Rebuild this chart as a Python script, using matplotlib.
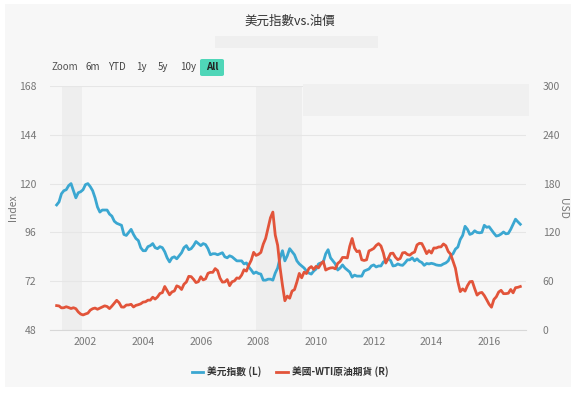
import numpy as np
import matplotlib
matplotlib.use("Agg")
import matplotlib.pyplot as plt
from matplotlib.patches import Rectangle, FancyBboxPatch
from matplotlib.lines import Line2D

plt.rcParams['font.family'] = ['Noto Sans CJK TC', 'DejaVu Sans']

title = "美元指數vs.油價"
start_year = 2001.0
# monthly values, Jan 2001 .. Feb 2017
dxy = [
    109.5, 111.0, 115.0, 116.5, 117.0, 119.0, 120.0, 116.5, 113.0, 115.5, 116.0, 117.0,
    119.5, 120.0, 118.5, 116.5, 113.0, 108.5, 106.0, 107.0, 107.0, 107.0, 105.0, 104.0,
    101.5, 100.5, 100.0, 99.5, 95.0, 94.5, 96.0, 97.5, 95.0, 93.0, 92.0, 88.5,
    87.0, 87.0, 89.0, 89.5, 90.5, 88.5, 88.0, 89.0, 88.5, 86.5, 83.5, 81.5,
    83.5, 84.0, 83.0, 84.5, 86.0, 88.5, 89.5, 87.5, 88.0, 89.5, 91.5, 90.5,
    89.5, 90.5, 90.0, 88.0, 85.0, 85.5, 85.5, 85.0, 85.5, 86.0, 84.0, 83.5,
    84.5, 84.0, 83.0, 82.0, 82.0, 82.0, 80.5, 81.0, 79.0, 77.5, 75.8, 76.5,
    75.8, 75.5, 72.5, 72.5, 73.0, 73.0, 72.5, 76.0, 78.5, 83.5, 87.0, 82.0,
    84.5, 88.0, 86.5, 85.0, 82.0, 80.5, 79.5, 78.5, 77.0, 76.0, 75.5, 77.0,
    78.0, 80.5, 81.0, 81.5, 85.5, 87.5, 83.5, 82.0, 80.5, 77.5, 78.5, 80.0,
    78.5, 77.5, 76.5, 74.0, 75.0, 74.5, 74.5, 74.5, 77.0, 77.5, 78.0, 79.5,
    80.0, 79.0, 79.5, 79.5, 81.5, 82.0, 83.0, 82.2, 79.5, 79.7, 80.5, 80.0,
    79.8, 81.0, 82.5, 82.5, 83.5, 82.0, 83.0, 81.8, 81.2, 79.8, 80.7, 80.5,
    80.8, 80.5, 80.0, 79.8, 79.8, 80.5, 81.0, 82.0, 84.5, 85.5, 87.8, 88.8,
    92.5, 94.5, 99.0, 97.5, 95.0, 95.5, 96.8, 96.0, 95.8, 96.0, 99.5, 98.5,
    98.8, 97.2, 95.6, 94.2, 94.5, 95.2, 96.2, 95.3, 95.5, 97.5, 100.0, 102.5,
    101.2, 100.0,
]
wti = [
    30.0, 29.6, 27.2, 27.4, 28.6, 27.6, 26.4, 27.4, 26.2, 22.2, 19.6, 18.5,
    19.7, 20.7, 24.4, 26.2, 27.0, 25.5, 26.9, 28.4, 29.7, 28.9, 26.3, 29.4,
    32.9, 36.5, 33.6, 28.3, 28.1, 30.7, 30.8, 31.6, 28.3, 30.3, 31.1, 32.2,
    34.3, 34.7, 36.7, 36.7, 40.3, 38.0, 40.7, 44.9, 45.9, 53.5, 48.5, 43.3,
    46.8, 48.0, 54.3, 53.0, 49.8, 56.3, 59.0, 66.0, 65.6, 62.3, 58.3, 59.4,
    65.5, 61.6, 62.9, 69.7, 70.9, 70.9, 75.5, 73.0, 63.8, 58.9, 59.1, 62.0,
    54.5, 59.3, 60.4, 64.0, 63.5, 67.5, 74.1, 72.4, 79.9, 85.8, 95.5, 91.7,
    93.0, 95.4, 105.5, 112.6, 125.4, 138.0, 145.0, 116.7, 104.1, 76.6, 55.0, 36.0,
    41.7, 39.1, 47.9, 49.6, 59.0, 69.6, 64.2, 71.1, 69.4, 75.7, 78.0, 74.5,
    78.3, 76.4, 81.2, 84.3, 73.7, 75.3, 76.3, 76.6, 75.2, 81.9, 84.3, 89.2,
    89.2, 88.6, 102.9, 112.5, 100.9, 96.3, 97.3, 86.3, 85.5, 86.3, 97.2, 98.6,
    100.3, 104.0, 106.2, 103.3, 94.7, 82.3, 87.9, 94.1, 94.5, 89.5, 86.5, 87.9,
    94.8, 95.3, 92.9, 92.0, 94.5, 95.8, 104.6, 106.6, 106.3, 100.5, 93.9, 97.6,
    94.6, 100.8, 100.8, 102.1, 102.2, 105.8, 103.6, 96.5, 93.2, 84.4, 75.8, 59.3,
    47.2, 50.6, 47.8, 54.5, 59.3, 59.8, 50.9, 42.9, 45.5, 46.2, 42.4, 37.2,
    31.7, 28.0, 37.5, 40.8, 46.7, 48.8, 44.7, 44.7, 45.2, 49.8, 45.7, 52.0,
    52.5, 53.5,
]
recessions = [(2001.17, 2001.88), (2007.92, 2009.5)]
left_ticks = [48, 72, 96, 120, 144, 168]
right_ticks = [0, 60, 120, 180, 240, 300]
year_ticks = [2002, 2004, 2006, 2008, 2010, 2012, 2014, 2016]
buttons = ["6m", "YTD", "1y", "5y", "10y", "All"]
legend_labels = ["美元指數 (L)", "美國-WTI原油期貨 (R)"]

BLUE = "#3ba7d1"
RED = "#e2543a"
W, H = 575, 393

fig = plt.figure(figsize=(W / 100, H / 100), dpi=100, facecolor="white")

def px(x, y):
    return x / W, 1 - y / H

# panel background
fig.patches.append(Rectangle((5 / W, 1 - 387 / H), 566 / W, 383 / H,
                             transform=fig.transFigure, facecolor="#f7f7f7",
                             edgecolor="none", zorder=-10))
# subtitle placeholder bar
fig.patches.append(Rectangle((215 / W, 1 - 48 / H), 163 / W, 12 / H,
                             transform=fig.transFigure, facecolor="#efefef",
                             edgecolor="none", zorder=1))

x0, x1 = 50, 526
y0, y1 = 86, 330
ax = fig.add_axes([x0 / W, 1 - y1 / H, (x1 - x0) / W, (y1 - y0) / H])
ax.set_facecolor("none")
ax2 = ax.twinx()
ax2.set_facecolor("none")

t = start_year + np.arange(len(dxy)) / 12.0
t2 = start_year + np.arange(len(wti)) / 12.0

px_per_year = 28.83
xmin = 2000 + (x0 - 27.8) / px_per_year
xmax = 2000 + (x1 - 27.8) / px_per_year

for a, b in recessions:
    ax.axvspan(a, b, color="#eeeeee", zorder=0, lw=0)

ax.plot(t, dxy, color=BLUE, lw=2.0, zorder=3, solid_joinstyle="round")
ax2.plot(t2, wti, color=RED, lw=2.0, zorder=3, solid_joinstyle="round")

ax.set_xlim(xmin, xmax)
ax.set_ylim(48, 168)
ax2.set_ylim(0, 300)
ax.set_yticks(left_ticks)
ax2.set_yticks(right_ticks)
ax.set_xticks(year_ticks)
ax.set_xticklabels([str(y) for y in year_ticks])
ax.grid(axis="y", color="#e6e6e6", lw=0.8, zorder=1)
ax.set_axisbelow(True)

for a in (ax, ax2):
    for s in a.spines.values():
        s.set_visible(False)
    a.tick_params(length=0, colors="#777777", labelsize=7.5)
ax.spines["bottom"].set_visible(True)
ax.spines["bottom"].set_color("#d8d8d8")
ax.spines["bottom"].set_linewidth(0.8)
ax.tick_params(axis="y", pad=10)
ax2.tick_params(axis="y", pad=12)
ax.tick_params(axis="x", pad=5)

ax.set_ylabel("Index", color="#777777", fontsize=7.5)
ax.yaxis.set_label_coords((13 - x0) / (x1 - x0), 0.5)
ax2.set_ylabel("USD", color="#777777", fontsize=7.5, rotation=270)
ax2.yaxis.set_label_coords((563 - x0) / (x1 - x0), 0.5)
ax2.yaxis.label.set_va("center")
ax.yaxis.label.set_va("center")

# top-right placeholder block
fig.patches.append(Rectangle((303 / W, 1 - 116 / H), 226 / W, 32 / H,
                             transform=fig.transFigure, facecolor="#f0f0f0",
                             edgecolor="none", zorder=2))

# title
fig.text(290 / W, 1 - 21 / H, title, ha="center", va="center",
         fontsize=9, color="#333333")

# range selector
fig.text(*px(52, 67), "Zoom", ha="left", va="center", fontsize=7, color="#555555")
bx = [86, 108, 136, 158, 180, 205]
for lbl, xx in zip(buttons, bx):
    if lbl == "All":
        fig.patches.append(FancyBboxPatch((200 / W, 1 - 76 / H), 24 / W, 17 / H,
                                          boxstyle="round,pad=0,rounding_size=0.004",
                                          transform=fig.transFigure,
                                          facecolor="#4fd6b8", edgecolor="none", zorder=2))
        fig.text(*px(212, 67), lbl, ha="center", va="center", fontsize=7,
                 color="#222222", fontweight="bold", zorder=3)
    else:
        fig.text(*px(xx, 67), lbl, ha="left", va="center", fontsize=7, color="#444444")

# legend
handles = [Line2D([], [], color=BLUE, lw=2), Line2D([], [], color=RED, lw=2)]
leg = fig.legend(handles, legend_labels, loc="center", bbox_to_anchor=px(290, 372),
                 ncol=2, frameon=False, handlelength=1.2,
                 handletextpad=0.4, columnspacing=1.5,
                 prop={"weight": "bold", "size": 7})
for txt in leg.get_texts():
    txt.set_color("#333333")

fig.savefig("out.png", dpi=100, facecolor="white")
